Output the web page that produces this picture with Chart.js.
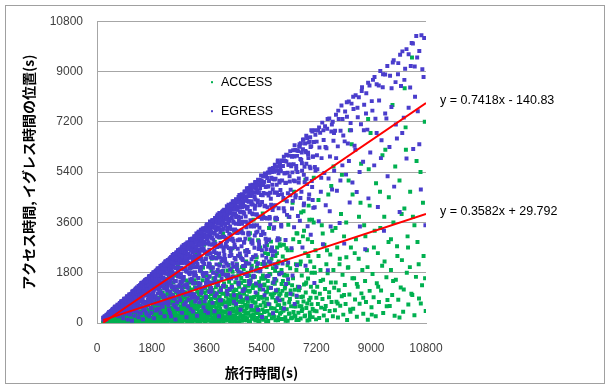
<!DOCTYPE html>
<html>
<head>
<meta charset="utf-8">
<script src="https://cdn.jsdelivr.net/npm/chart.js@4.4.1/dist/chart.umd.min.js"></script>
<style>
  html, body { margin: 0; padding: 0; background: #ffffff; }
  #wrap { width: 612px; height: 387px; }
</style>
</head>
<body>
<div id="wrap"><canvas id="chart" width="612" height="387"></canvas></div>
<script>
// Axis ticks (seconds)
const xTicks = [0, 1800, 3600, 5400, 7200, 9000, 10800];
const yTicks = [0, 1800, 3600, 5400, 7200, 9000, 10800];

const seriesNames = ['ACCESS', 'EGRESS'];
const seriesColors = ['#00B050', '#4A3DCC'];

// Linear trend lines: y = slope * x + intercept
const trendSlopes = [0.3582, 0.7418];
const trendIntercepts = [29.792, -140.83];
const trendLabels = ['y = 0.3582x + 29.792', 'y = 0.7418x - 140.83'];
const trendRange = [200, 10800];

// EGRESS: travel time (x), egress position (y), as x,y pairs
const egressXY = [
  // 0-600
  200,190, 210,120, 230,150, 240,220, 260,240, 270,180, 280,200, 300,120, 310,280, 320,300, 350,270, 370,330, 390,250, 410,390, 430,350, 450,420, 470,300, 490,460, 510,480, 530,400, 550,520, 560,450, 580,560, 590,330, 600,580,
  310,220, 329,290, 345,220, 368,340, 381,300, 402,390, 427,290, 441,370, 463,420, 479,280, 500,380, 523,500, 537,360, 560,490, 576,470, 599,580,
  // 600-1200
  610,580, 625,500, 640,575, 655,395, 670,650, 690,585, 705,530, 720,660, 735,370, 750,720, 765,630, 780,700, 800,560, 815,775, 830,730, 845,340, 860,800, 875,680, 890,865, 905,780, 920,600, 935,880, 950,760, 965,870, 980,540, 995,955, 1010,840, 1025,930, 1040,750, 1055,1020, 1070,930, 1085,330, 1100,1035, 1115,890, 1130,1015, 1145,780, 1160,1110, 1175,1000, 1185,1090, 1195,920, 1050,630, 940,420, 860,170, 1120,560, 700,245,
  618,380, 633,470, 657,590, 672,560, 694,500, 713,630, 729,470, 751,700, 768,610, 790,770, 806,560, 829,700, 847,770, 862,500, 886,670, 903,860, 921,620, 944,820, 958,780, 981,950, 997,620, 1019,750, 1034,930, 1057,880, 1073,770, 1095,960, 1112,710, 1131,1050, 1152,910, 1168,1140, 1189,820,
  // 1200-1800
  1205,1157, 1215,972, 1225,1100, 1235,865, 1245,1170, 1255,1067, 1265,760, 1275,1237, 1285,1130, 1295,970, 1305,1200, 1315,658, 1325,1260, 1335,1095, 1345,1210, 1355,895, 1365,1325, 1375,1183, 1385,555, 1395,1297, 1405,1096, 1415,1358, 1425,1268, 1435,1033, 1445,1373, 1455,1222, 1465,806, 1475,1445, 1485,1336, 1495,1136, 1505,1415, 1515,1303, 1525,458, 1535,1489, 1545,1236, 1555,1430, 1565,1064, 1575,1512, 1585,1379, 1595,1180, 1605,1493, 1615,1001, 1625,1576, 1635,1390, 1645,1480, 1655,745, 1665,1582, 1675,1323, 1685,1533, 1695,1186, 1705,1654, 1715,1509, 1725,1000, 1735,1631, 1745,1448, 1755,1685, 1765,1341, 1775,1598, 1785,357, 1795,1705,
  1204,1010, 1219,1110, 1231,710, 1246,950, 1258,1200, 1273,850, 1287,1120, 1298,1050, 1314,1270, 1327,820, 1339,990, 1354,1220, 1366,1130, 1381,990, 1393,1230, 1408,900, 1421,1320, 1433,1130, 1448,1420, 1460,1010, 1475,1240, 1487,1350, 1502,870, 1514,1150, 1529,1450, 1541,1030, 1556,1350, 1568,1270, 1583,1540, 1595,990, 1610,1190, 1622,1460, 1637,1360, 1649,1190, 1664,1460, 1676,1070, 1691,1570, 1703,1350, 1718,1680, 1730,1190, 1745,1470, 1757,1600, 1772,1030, 1784,1360, 1799,1710,
  1230,550, 1281,410, 1327,690, 1376,370, 1424,570, 1473,810, 1519,550, 1570,750, 1616,360, 1665,830, 1713,720, 1762,530,
  // 1800-2400
  1805,1751, 1812,1504, 1820,1674, 1827,1297, 1835,1743, 1842,1621, 1850,1073, 1857,1820, 1865,1679, 1872,1441, 1880,1767, 1887,906, 1895,1819, 1902,1617, 1910,1738, 1917,1246, 1925,1867, 1932,1681, 1940,698, 1947,1811, 1955,1564, 1962,1884, 1970,1753, 1977,1443, 1985,1886, 1992,1673, 2000,1060, 2007,1947, 2015,1814, 2022,1517, 2030,1888, 2037,1752, 2045,511, 2052,1970, 2060,1669, 2067,1902, 2075,1432, 2082,2040, 2090,1839, 2097,1300, 2105,2000, 2112,1668, 2120,1908, 2127,1446, 2135,2071, 2142,1842, 2150,946, 2157,2006, 2165,1797, 2172,2085, 2180,1613, 2187,1946, 2195,2129, 2202,1233, 2210,2033, 2217,1884, 2225,2114, 2232,1562, 2240,2195, 2247,1955, 2255,722, 2262,2126, 2270,1771, 2277,2072, 2285,1462, 2292,2200, 2300,1932, 2307,2076, 2315,1158, 2322,2252, 2330,2050, 2337,1776, 2345,2204, 2352,1929, 2360,1416, 2367,2272, 2375,2114, 2382,1715, 2390,2223, 2397,360, 2370,1896, 2250,900,
  1811,1210, 1826,1590, 1838,1490, 1853,1800, 1865,1160, 1880,1390, 1892,1700, 1907,1580, 1919,1380, 1934,1700, 1946,1250, 1961,1820, 1973,1560, 1988,1950, 2000,1380, 2015,1690, 2027,1840, 2042,1180, 2054,1560, 2069,1970, 2081,1390, 2096,1820, 2108,1710, 2123,2060, 2135,1320, 2150,1590, 2162,1950, 2177,1810, 2189,1580, 2204,1940, 2216,1420, 2231,2070, 2243,1770, 2258,2210, 2270,1570, 2285,1920, 2297,2090, 2312,1340, 2324,1770, 2339,2220, 2351,1580, 2366,2060, 2378,1930, 2393,2320,
  1808,960, 1859,710, 1905,900, 1954,490, 2002,880, 2051,700, 2097,1070, 2148,620, 2194,990, 2243,720, 2289,1190, 2340,630, 2386,950,
  // 2400-3000
  2404,2280, 2411,2070, 2418,2200, 2425,1600, 2432,2360, 2439,1950, 2446,2270, 2453,1280, 2460,2360, 2467,2170, 2474,1830, 2481,2430, 2488,2240, 2495,950, 2502,2350, 2509,2080, 2516,2420, 2523,1770, 2530,2330, 2537,2180, 2544,1480, 2551,2470, 2558,2280, 2565,1980, 2572,2440, 2579,1160, 2586,2350, 2593,2180, 2600,2520, 2607,1770, 2614,2430, 2621,2280, 2628,740, 2635,2530, 2642,2140, 2649,2380, 2656,1670, 2663,2610, 2670,2270, 2677,2520, 2684,1960, 2691,2580, 2698,2370, 2705,1350, 2712,2520, 2719,2150, 2726,2640, 2733,2460, 2740,1640, 2747,2610, 2754,2310, 2761,2540, 2768,1970, 2775,2690, 2782,2420, 2789,1170, 2796,2630, 2803,2300, 2810,2700, 2817,2140, 2824,2570, 2831,2430, 2838,1560, 2845,2790, 2852,2540, 2859,1920, 2866,2720, 2873,2300, 2880,2680, 2887,1010, 2894,2810, 2901,2470, 2908,2620, 2915,1870, 2922,2810, 2929,2580, 2936,2200, 2943,2770, 2950,2450, 2957,1390, 2964,2880, 2971,2670, 2978,2320, 2985,2840, 2992,600,
  2405,1490, 2418,1790, 2432,2190, 2444,2030, 2459,1770, 2471,2170, 2486,1590, 2498,2320, 2513,1990, 2525,2470, 2540,1750, 2552,2140, 2567,2340, 2579,1500, 2594,1970, 2606,2480, 2621,1760, 2633,2290, 2648,2140, 2660,2580, 2675,1660, 2687,1990, 2702,2430, 2714,2250, 2729,1960, 2741,2410, 2756,1760, 2768,2570, 2783,2200, 2795,2740, 2810,1940, 2822,2370, 2837,2580, 2849,1650, 2864,2180, 2876,2730, 2891,1940, 2903,2530, 2918,2360, 2930,2840, 2945,1830, 2957,2190, 2972,2670, 2984,2480,
  2435,1340, 2483,890, 2532,1220, 2578,570, 2629,1310, 2675,1120, 2724,820, 2770,1470, 2819,1070, 2865,1350, 2914,730, 2962,1300,
  // 3000-3600
  3004,2880, 3011,2470, 3018,2780, 3025,2090, 3032,2880, 3039,2640, 3046,1740, 3053,2990, 3060,2750, 3067,2330, 3074,2890, 3081,1510, 3088,2960, 3095,2600, 3102,2820, 3109,1990, 3116,3020, 3123,2690, 3130,1030, 3137,2920, 3144,2520, 3151,3020, 3158,2780, 3165,2280, 3172,3010, 3179,2640, 3186,1720, 3193,3100, 3200,2880, 3207,2410, 3214,2990, 3221,2740, 3228,770, 3235,3110, 3242,2630, 3249,2990, 3256,2180, 3263,3200, 3270,2880, 3277,2000, 3284,3120, 3291,2570, 3298,2970, 3305,2280, 3312,3210, 3319,2850, 3326,1430, 3333,3100, 3340,2770, 3347,3210, 3354,2450, 3361,2990, 3368,3270, 3375,1890, 3382,3110, 3389,2880, 3396,3230, 3403,2380, 3410,3340, 3417,2970, 3424,1060, 3431,3230, 3438,2680, 3445,3130, 3452,2210, 3459,3320, 3466,2910, 3473,3130, 3480,1740, 3487,3380, 3494,3070, 3501,2660, 3508,3300, 3515,2880, 3522,2110, 3529,3390, 3536,3150, 3543,2550, 3550,3300, 3557,430, 3564,2850, 3571,3390, 3578,1430, 3585,3120, 3592,3480,
  2999,2160, 3011,2650, 3026,1940, 3038,2830, 3053,2410, 3065,3000, 3080,2130, 3092,2600, 3107,2830, 3119,1810, 3134,2380, 3146,2990, 3161,2120, 3173,2760, 3188,2580, 3200,3100, 3215,1990, 3227,2390, 3242,2920, 3254,2700, 3269,2350, 3281,2890, 3296,2110, 3308,3080, 3323,2630, 3335,3270, 3350,2310, 3362,2820, 3377,3070, 3389,1970, 3404,2590, 3416,3250, 3431,2300, 3443,3000, 3458,2800, 3470,3370, 3485,2160, 3497,2590, 3512,3160, 3524,2920, 3539,2550, 3551,3120, 3566,2280, 3578,3330, 3593,2840,
  3011,1020, 3057,1560, 3108,900, 3154,1420, 3203,1020, 3249,1690, 3300,890, 3346,1340, 3395,1870, 3443,1240, 3492,1680, 3538,780, 3589,1790,
  // 3600-4200
  3604,3420, 3611,3000, 3619,3290, 3626,2470, 3634,3530, 3641,3130, 3649,2010, 3656,3400, 3664,2890, 3671,3520, 3679,3240, 3686,2620, 3694,3470, 3701,1670, 3709,3630, 3716,3120, 3724,3350, 3731,2350, 3739,3590, 3746,3260, 3754,1130, 3761,3460, 3769,3050, 3776,3590, 3784,2800, 3791,3680, 3799,3230, 3806,1980, 3814,3550, 3821,2980, 3829,3680, 3836,3410, 3844,2540, 3851,3620, 3859,3200, 3866,1470, 3874,3760, 3881,3420, 3889,2840, 3896,3700, 3904,3320, 3911,2310, 3919,3610, 3926,3140, 3934,3820, 3941,2720, 3949,3550, 3956,3760, 3964,1900, 3971,3420, 3979,3700, 3986,3070, 3994,3830, 4001,3360, 4009,2490, 4016,3940, 4024,3580, 4031,810, 4039,3800, 4046,3240, 4054,3690, 4061,2840, 4069,3910, 4076,3510, 4084,2210, 4091,3800, 4099,3360, 4106,3980, 4114,3090, 4121,3710, 4129,1730, 4136,3930, 4144,3610, 4151,2700, 4159,3910, 4166,3370, 4174,4050, 4181,2430, 4189,3730, 4196,3900,
  3606,3530, 3624,2500, 3641,3060, 3660,3330, 3676,2130, 3695,2810, 3713,3530, 3730,2500, 3749,3260, 3765,3050, 3784,3670, 3802,2360, 3819,2830, 3838,3450, 3854,3200, 3873,2790, 3891,3420, 3908,2500, 3927,3650, 3943,3110, 3962,3880, 3980,2750, 3997,3360, 4016,3650, 4032,2340, 4051,3080, 4069,3870, 4086,2740, 4105,3570, 4121,3340, 4140,4020, 4158,2580, 4175,3090, 4194,3770,
  3635,1530, 3684,1110, 3730,1980, 3779,1440, 3825,1800, 3874,970, 3922,1730, 3971,1350, 4017,2050, 4068,1180, 4114,1850, 4163,1330,
  // 4200-4800
  4204,4040, 4212,3540, 4220,3880, 4229,2830, 4237,4030, 4245,3690, 4254,2130, 4262,4180, 4270,3840, 4279,3290, 4287,4030, 4295,1630, 4304,4130, 4312,3580, 4320,3930, 4329,2680, 4337,4210, 4345,3740, 4354,1220, 4362,4060, 4370,3450, 4379,4160, 4387,3160, 4395,3910, 4404,4270, 4412,2430, 4420,4070, 4429,3760, 4437,4170, 4445,3020, 4454,4360, 4462,3930, 4470,2010, 4479,4170, 4487,3590, 4495,4320, 4504,3330, 4512,4060, 4520,4290, 4529,2720, 4537,3900, 4545,4230, 4554,3550, 4562,4430, 4570,3840, 4579,1600, 4587,4170, 4595,4410, 4604,3220, 4612,4060, 4620,4340, 4629,2410, 4637,3800, 4645,4510, 4654,4140, 4662,3540, 4670,4340, 4679,2990, 4687,4450, 4695,3990, 4704,4230, 4712,940, 4720,4530, 4729,3780, 4737,4360, 4745,3320, 4754,4610, 4762,4140, 4770,2290, 4779,4490, 4787,3970, 4795,4320,
  4210,3490, 4229,3040, 4247,3740, 4264,2730, 4283,3980, 4299,3400, 4318,4230, 4336,2990, 4353,3660, 4372,3980, 4388,2550, 4407,3350, 4425,4200, 4442,2980, 4461,3880, 4477,3630, 4496,4360, 4514,2800, 4531,3350, 4550,4100, 4566,3790, 4585,3300, 4603,4050, 4620,2960, 4639,4310, 4655,3680, 4674,4580, 4692,3240, 4709,3960, 4728,4300, 4744,2750, 4763,3620, 4781,4540, 4798,3210,
  4209,2190, 4260,1150, 4306,1720, 4355,2400, 4403,1590, 4452,2140, 4498,990, 4549,2270, 4595,1930, 4644,1390, 4690,2490, 4739,1800, 4785,2250,
  // 4800-5400
  4804,4560, 4814,3950, 4823,4390, 4833,2900, 4843,4700, 4852,4170, 4862,2040, 4872,4530, 4881,3810, 4891,4700, 4901,3430, 4910,4370, 4920,4820, 4930,2610, 4939,4540, 4949,4160, 4959,4710, 4968,3230, 4978,4830, 4988,4340, 4997,1500, 5007,4660, 5017,4010, 5026,4830, 5036,3680, 5046,4540, 5055,4800, 5065,2890, 5075,4360, 5084,4730, 5094,3920, 5104,4950, 5113,4240, 5123,2360, 5133,4670, 5142,4940, 5152,3500, 5162,4540, 5171,4860, 5181,4090, 5191,5040, 5200,4420, 5210,1880, 5220,4800, 5229,5020, 5239,3880, 5249,4670, 5258,4940, 5268,3270, 5278,4330, 5287,5130, 5297,4660, 5307,2650, 5316,4940, 5326,4210, 5336,5120, 5345,3790, 5355,4820, 5365,5100, 5374,1340, 5384,4580, 5394,4960,
  4817,4190, 4833,3910, 4852,4710, 4870,3020, 4887,3620, 4906,4420, 4922,4090, 4941,3560, 4959,4360, 4976,3180, 4995,4650, 5011,3960, 5030,4930, 5048,3480, 5065,4250, 5084,4630, 5100,2960, 5119,3890, 5137,4880, 5154,3450, 5173,4500, 5189,4200, 5208,5050, 5226,3240, 5243,3880, 5262,4740, 5278,4380, 5297,3810, 5315,4680, 5332,3410, 5351,4980, 5367,4240, 5386,5280,
  4834,1210, 4882,2150, 4931,1680, 4977,2540, 5028,1460, 5074,2280, 5123,1640, 5169,2690, 5220,1410, 5266,2110, 5315,2920, 5363,1930,
  // 5400-6000
  5406,5080, 5418,4330, 5430,4940, 5442,3270, 5454,5240, 5466,4650, 5478,2190, 5490,5050, 5502,4180, 5514,5350, 5526,3760, 5538,4870, 5550,5270, 5562,2890, 5574,4630, 5586,5190, 5598,4140, 5610,5390, 5622,4890, 5634,1690, 5646,5080, 5658,5380, 5670,3740, 5682,4660, 5694,5520, 5706,4450, 5718,5200, 5730,2580, 5742,5400, 5754,4950, 5766,4040, 5778,5550, 5790,5150, 5802,3370, 5814,5410, 5826,4660, 5838,5660, 5850,4210, 5862,5160, 5874,1170, 5886,5590, 5898,4950, 5910,3720, 5922,5450, 5934,5760, 5946,4580, 5958,5360, 5970,2990, 5982,5620, 5994,5090,
  5412,3730, 5441,4570, 5467,4970, 5496,3190, 5522,4200, 5551,5270, 5577,3740, 5606,4880, 5632,4560, 5661,5490, 5687,3530, 5716,4230, 5742,5170, 5771,4790, 5797,4170, 5826,5130, 5852,3750, 5881,5470, 5907,4670, 5936,5820, 5962,4110, 5991,5030,
  5412,2600, 5458,1200, 5509,2750, 5555,2330, 5604,1680, 5650,2990, 5699,2170, 5745,2700, 5794,1450, 5842,2570, 5891,2000, 5937,3030, 5988,1740,
  // 6000-6600
  6007,5710, 6021,4760, 6035,5430, 6049,3450, 6063,5820, 6077,5100, 6091,2130, 6105,5620, 6119,4470, 6133,5950, 6147,4000, 6161,5360, 6175,5800, 6189,2970, 6203,5020, 6217,5780, 6231,4360, 6245,6000, 6259,5380, 6273,1570, 6287,5660, 6301,5990, 6315,3790, 6329,5060, 6343,6150, 6357,4770, 6371,5670, 6385,2680, 6399,5950, 6413,5390, 6427,4370, 6441,6180, 6455,5680, 6469,3430, 6483,5960, 6497,5070, 6511,6190, 6525,4570, 6539,5620, 6553,980, 6567,6170, 6581,5400,
  6017,5480, 6046,3510, 6072,4610, 6101,5800, 6127,4110, 6156,5360, 6182,5010, 6211,6020, 6237,3870, 6266,4640, 6292,5660, 6321,5250, 6347,4570, 6376,5610, 6402,4100, 6431,5980, 6457,5100, 6486,6360, 6512,4490, 6541,5490, 6567,5980, 6596,3830,
  // 6600-7200
  6608,6150, 6625,5170, 6642,6310, 6659,3660, 6676,5870, 6693,6430, 6710,4700, 6727,5720, 6744,2700, 6761,6220, 6778,6570, 6795,4280, 6812,5590, 6829,6420, 6846,2050, 6863,6110, 6880,5160, 6897,6620, 6914,3460, 6931,6030, 6948,6460, 6965,4600, 6982,5590, 6999,6650, 7016,3160, 7033,6330, 7050,5080, 7067,6850, 7084,5950, 7101,4120, 7118,6480, 7135,1430, 7152,5580, 7169,6740,
  6650,6400, 6720,6100, 6790,5300, 6870,6700, 6940,5900, 7010,6300, 7080,4400, 7150,6900,
  6622,5030, 6651,6320, 6677,4470, 6706,5830, 6732,5450, 6761,6560, 6787,4210, 6816,5040, 6842,6160, 6871,5700, 6897,4970, 6926,6090, 6952,4450, 6981,6490, 7007,5540, 7036,6900, 7062,4870, 7091,5960, 7117,6480, 7146,4140, 7172,5450,
  // 7200-7800
  7210,6490, 7233,5500, 7256,6890, 7279,3640, 7302,6280, 7325,6810, 7348,4700, 7371,5900, 7394,7170, 7417,2820, 7440,6550, 7463,5370, 7486,7040, 7509,4210, 7532,6250, 7555,6950, 7578,1890, 7601,5170, 7624,7320, 7647,5960, 7670,3450, 7693,6850, 7716,4780, 7739,7200, 7762,6520, 7785,5450,
  7220,6000, 7290,7000, 7360,5200, 7430,6900, 7500,6300, 7570,7300, 7640,4000, 7710,7100, 7780,6800,
  // 7800-8400
  7815,6880, 7845,7450, 7875,4730, 7905,6320, 7935,7300, 7965,3580, 7995,6880, 8025,7780, 8055,5640, 8085,6710, 8115,2840, 8145,7570, 8175,5310, 8205,7380, 8235,6420, 8265,7930, 8295,4310, 8325,7160, 8355,7850, 8385,5030,
  7850,5900, 7920,7600, 7990,5100, 8060,7300, 8130,6500, 8200,7900, 8270,5800, 8340,6900,
  // 8400-9000
  8420,7660, 8455,6340, 8490,8150, 8525,4690, 8560,7360, 8595,8080, 8630,3450, 8665,7110, 8700,8440, 8735,5770, 8770,7810, 8805,2640, 8840,8220, 8875,6920, 8910,4460, 8945,8500,
  8410,8100, 8480,6200, 8550,7700, 8620,5400, 8690,8300, 8760,6900, 8830,7500, 8900,8600, 8970,6100,
  // 9000-9600
  9020,7940, 9060,8700, 9100,5640, 9140,7310, 9180,8540, 9220,4150, 9260,7960, 9300,9020, 9340,6540, 9380,8440, 9420,3300, 9460,8890, 9500,7320, 9540,5250,
  9040,7600, 9110,8800, 9180,6800, 9250,8500, 9320,5900, 9390,8900, 9460,7500, 9530,9200,
  // 9600-10200
  9620,8850, 9665,7730, 9710,9320, 9755,4880, 9800,8620, 9845,6600, 9890,9300, 9935,3970, 9980,8480, 10025,9720, 10070,7350, 10115,9100, 10160,5890,
  9600,6300, 9670,8400, 9740,9400, 9810,7100, 9880,8900, 9950,9600, 10020,6800, 10090,8700, 10160,9800,
  // 10200-10800
  10230,9620, 10280,8430, 10330,10020, 10380,6230, 10430,9180, 10480,10270, 10530,7580, 10580,9730, 10630,4780, 10680,9080, 10740,10200,
  10230,7700, 10300,9200, 10370,10000, 10440,8100, 10510,9500, 10580,6400, 10650,10300, 10720,8800, 10780,3500,
  // middle of the triangle, 700-5900
  700,364, 731,278, 775,512, 802,361, 841,597, 876,359, 905,525, 947,331, 980,617, 1011,495, 1055,728, 1082,465, 1121,617, 1156,428, 1185,723, 1227,577, 1260,907, 1291,516, 1335,761, 1362,681,
  1401,771, 1436,589, 1465,1011, 1507,723, 1540,1140, 1571,691, 1615,985, 1642,624, 1681,1109, 1716,892, 1745,1256, 1787,822, 1820,1056, 1851,740, 1895,1213, 1922,961, 1961,1471, 1996,858, 2025,1215, 2067,1096,
  2100,1029, 2131,746, 2175,1370, 2202,925, 2241,1524, 2276,865, 2305,1268, 2347,751, 2380,1428, 2411,1109, 2455,1620, 2482,993, 2521,1311, 2556,869, 2585,1499, 2627,1156, 2660,1835, 2691,996, 2735,1477, 2762,1298,
  2801,1499, 2836,1120, 2865,1934, 2907,1352, 2940,2132, 2971,1263, 3015,1794, 3042,1110, 3081,1987, 3116,1574, 3145,2217, 3187,1418, 3220,1819, 3251,1252, 3295,2059, 3322,1611, 3361,2470, 3396,1409, 3425,2004, 3467,1786,
  3500,1768, 3531,1289, 3575,2306, 3602,1567, 3641,2530, 3676,1452, 3705,2093, 3747,1255, 3780,2325, 3811,1810, 3855,2602, 3882,1611, 3921,2098, 3956,1404, 3985,2371, 4027,1832, 4060,2862, 4091,1575, 4135,2295, 4162,2019,
  4201,2290, 4236,1716, 4265,2922, 4307,2046, 4340,3190, 4371,1901, 4415,2671, 4442,1666, 4481,2935, 4516,2326, 4545,3250, 4587,2087, 4620,2657, 4651,1837, 4695,2981, 4722,2337, 4761,3547, 4796,2038, 4825,2871, 4867,2555,
  4900,2426, 4931,1751, 4975,3159, 5002,2126, 5041,3453, 5076,1954, 5105,2833, 5147,1673, 5180,3134, 5211,2423, 5255,3495, 5282,2139, 5321,2794, 5356,1848, 5385,3150, 5427,2415, 5460,3795, 5491,2059, 5535,3017, 5562,2642,
  5601,2969, 5636,2198, 5665,3796, 5707,2625, 5740,4133, 5771,2424, 5815,3431, 5842,2103, 5881,3764, 5916,2958,
  // lower part of the triangle, 1000-6700
  1010,121, 1083,303, 1149,80, 1226,257, 1297,428, 1362,204, 1441,360, 1508,136, 1577,473, 1655,298,
  1722,241, 1790,537, 1869,168, 1935,445, 2004,701, 2083,354, 2149,580, 2218,244, 2296,735, 2363,473,
  2431,243, 2510,653, 2576,129, 2645,503, 2723,844, 2790,363, 2858,657, 2937,206, 3003,841, 3072,492,
  3150,410, 3217,933, 3285,263, 3364,740, 3430,1166, 3499,560, 3577,930, 3644,364, 3712,1151, 3791,720,
  3857,424, 3926,1060, 4004,240, 4071,814, 4139,1324, 4218,591, 4284,1028, 4353,348, 4431,1285, 4498,765,
  4566,685, 4645,1440, 4711,471, 4780,1147, 4858,1749, 4925,887, 4993,1398, 5072,609, 5138,1696, 5207,1093,
  5285,476, 5352,1338, 5420,217, 5499,990, 5565,1670, 5634,676, 5712,1257, 5779,347, 5847,1579, 5926,889,
  5992,809, 6061,1788, 6139,522, 6206,1396, 6274,2165, 6353,1048, 6419,1701, 6488,681, 6566,2068, 6633,1293
];

// ACCESS: travel time (x), access position (y), as x,y pairs
const accessXY = [
  // 0-600
  200,20, 215,40, 230,10, 245,60, 260,30, 275,80, 290,20, 300,100, 330,50, 360,150, 380,30, 400,90, 430,200, 460,60, 480,120, 510,30, 540,250, 560,80, 580,160, 600,40,
  // 600-1200
  610,60, 630,150, 650,20, 670,230, 690,90, 710,40, 730,180, 750,300, 770,70, 790,130, 810,20, 830,250, 850,110, 870,400, 890,50, 910,170, 930,80, 950,320, 970,30, 990,210, 1010,100, 1030,500, 1050,60, 1070,280, 1090,150, 1110,20, 1130,350, 1150,90, 1170,200, 1190,40, 660,330, 780,10, 880,280, 1000,600, 1080,30, 1160,450, 720,100, 940,220, 1120,130, 1060,700,
  1003,60, 1024,210, 1041,130, 1063,350, 1082,20, 1101,270, 1122,160, 1140,440, 1161,90, 1179,310, 1200,40,
  // 1200-1800
  1210,40, 1220,250, 1230,120, 1240,380, 1250,60, 1260,190, 1270,20, 1280,300, 1290,150, 1300,90, 1310,450, 1320,30, 1330,210, 1340,110, 1350,560, 1360,70, 1370,260, 1380,140, 1390,20, 1400,340, 1410,180, 1420,80, 1430,620, 1440,40, 1450,230, 1460,130, 1470,400, 1480,60, 1490,290, 1500,10, 1510,170, 1520,480, 1530,90, 1540,320, 1550,40, 1560,200, 1570,750, 1580,120, 1590,30, 1600,270, 1610,160, 1620,520, 1630,70, 1640,350, 1650,20, 1660,210, 1670,110, 1680,420, 1690,50, 1700,900, 1720,240, 1740,130, 1760,30, 1780,360, 1795,180,
  1221,520, 1239,190, 1260,110, 1278,400, 1299,250, 1320,70, 1338,600, 1359,150, 1377,340, 1398,240, 1419,90, 1437,420, 1458,30, 1476,180, 1497,560, 1518,120, 1536,300, 1557,70, 1575,480, 1596,200, 1617,10, 1635,360, 1656,140, 1674,650, 1695,260, 1716,50, 1734,390, 1755,170, 1773,520,
  // 1800-2400
  1808,90, 1817,363, 1826,183, 1835,642, 1845,37, 1854,278, 1863,522, 1872,150, 1882,941, 1891,227, 1900,418, 1909,76, 1918,767, 1928,347, 1937,174, 1946,584, 1955,20, 1965,491, 1974,1283, 1983,258, 1992,120, 2002,661, 2011,402, 2020,222, 2029,913, 2039,61, 2048,348, 2057,555, 2066,145, 2076,1661, 2085,104, 2094,419, 2103,210, 2113,740, 2122,42, 2131,320, 2140,599, 2150,172, 2159,1080, 2168,260, 2177,479, 2187,87, 2196,878, 2205,397, 2214,199, 2224,667, 2233,22, 2242,561, 2251,1351, 2261,294, 2270,136, 2279,752, 2288,458, 2298,253, 2307,1038, 2316,69, 2325,395, 2335,630, 2344,164, 2353,1647, 2362,330, 2372,546, 2381,119, 2390,908, 2399,240,
  1794,110, 1815,380, 1833,60, 1854,700, 1872,230, 1893,20, 1914,460, 1932,150, 1953,810, 1971,290, 1992,90, 2013,540, 2031,180, 2052,30, 2070,620, 2091,340, 2112,120, 2130,900, 2151,250, 2169,430, 2190,70, 2211,520, 2229,200, 2250,980, 2268,310, 2289,40, 2310,690, 2328,160, 2349,420, 2367,120, 2388,260,
  // 2400-3000
  2405,120, 2414,480, 2422,250, 2431,850, 2440,60, 2448,370, 2457,690, 2466,190, 2474,1230, 2483,300, 2492,540, 2500,90, 2509,1000, 2518,440, 2526,220, 2535,760, 2544,30, 2552,640, 2561,1700, 2570,340, 2578,150, 2587,860, 2596,520, 2604,280, 2613,1180, 2622,80, 2630,450, 2639,710, 2648,180, 2656,2100, 2665,130, 2674,530, 2682,270, 2691,940, 2700,50, 2708,410, 2717,760, 2726,220, 2734,1360, 2743,330, 2752,600, 2760,110, 2769,1100, 2778,500, 2786,250, 2795,840, 2804,20, 2812,700, 2821,1600, 2830,370, 2838,170, 2847,930, 2856,570, 2864,310, 2873,1290, 2882,90, 2890,490, 2899,780, 2908,200, 2916,2300, 2925,140, 2934,590, 2942,290, 2951,1050, 2960,60, 2968,430, 2977,820, 2986,240, 2994,1450, 2999,380,
  2410,90, 2436,480, 2459,230, 2485,820, 2510,30, 2533,610, 2559,340, 2584,1100, 2607,160, 2633,720, 2658,60, 2681,1300, 2707,410, 2732,190, 2755,950, 2781,550, 2806,120, 2829,1600, 2855,290, 2880,760, 2903,370, 2929,140, 2954,890, 2977,50,
  // 3000-3600
  3004,150, 3013,560, 3021,290, 3030,1020, 3039,70, 3047,430, 3056,820, 3065,230, 3073,1450, 3082,360, 3091,650, 3099,110, 3108,1200, 3117,520, 3125,260, 3134,900, 3143,30, 3151,760, 3160,2000, 3169,400, 3177,180, 3186,1030, 3195,620, 3203,330, 3212,1400, 3221,100, 3229,540, 3238,840, 3247,210, 3255,2500, 3264,150, 3273,630, 3281,320, 3290,1120, 3299,60, 3307,490, 3316,900, 3325,260, 3333,1600, 3342,390, 3351,710, 3359,130, 3368,1300, 3377,590, 3385,300, 3394,990, 3403,20, 3411,820, 3420,1850, 3429,440, 3437,200, 3446,1100, 3455,680, 3463,370, 3472,1530, 3481,110, 3489,580, 3498,920, 3507,240, 3515,2800, 3524,170, 3533,700, 3541,350, 3550,1240, 3559,80, 3567,510, 3576,970, 3585,290, 3593,1700, 3599,450,
  3003,520, 3028,1200, 3051,260, 3077,680, 3102,20, 3125,1000, 3151,450, 3176,180, 3199,760, 3225,310, 3250,1450, 3273,80, 3299,590, 3324,230, 3347,1050, 3373,400, 3398,210, 3421,1150, 3447,100, 3472,640, 3495,330, 3521,1700, 3546,40, 3569,880, 3595,470,
  // 3600-4200
  3605,180, 3614,640, 3623,330, 3632,1150, 3641,80, 3650,500, 3659,930, 3668,260, 3677,1650, 3686,410, 3695,740, 3704,120, 3713,1380, 3722,590, 3731,290, 3740,1030, 3749,40, 3758,860, 3767,2300, 3776,450, 3785,200, 3794,1180, 3803,700, 3812,370, 3821,1600, 3830,110, 3839,610, 3848,960, 3857,230, 3866,2900, 3875,160, 3884,720, 3893,360, 3902,1280, 3911,70, 3920,560, 3929,1030, 3938,300, 3947,1830, 3956,440, 3965,810, 3974,140, 3983,1490, 3992,670, 4001,340, 4010,1130, 4019,30, 4028,930, 4037,2100, 4046,500, 4055,230, 4064,1260, 4073,770, 4082,420, 4091,1750, 4100,120, 4109,660, 4118,1050, 4127,280, 4136,3200, 4145,190, 4154,790, 4163,400, 4172,1410, 4190,90,
  3620,170, 3643,1350, 3669,280, 3694,730, 3717,130, 3743,560, 3768,2000, 3791,360, 3817,70, 3842,920, 3865,250, 3891,90, 3916,480, 3939,230, 3965,820, 3990,30, 4013,610, 4039,340, 4064,1100, 4087,160, 4113,720, 4138,60, 4161,1300, 4187,410,
  // 4200-4800
  4205,210, 4215,730, 4225,380, 4235,1300, 4245,90, 4256,570, 4266,1060, 4276,300, 4286,1880, 4297,470, 4307,850, 4317,140, 4327,1580, 4338,680, 4348,330, 4358,1180, 4368,50, 4379,990, 4389,2600, 4399,510, 4410,230, 4420,1350, 4430,800, 4440,420, 4451,1830, 4461,130, 4471,700, 4481,1100, 4492,270, 4502,3300, 4512,180, 4522,820, 4533,410, 4543,1460, 4553,80, 4563,640, 4574,1180, 4584,340, 4594,2100, 4604,500, 4615,930, 4625,160, 4635,1700, 4645,760, 4656,390, 4666,1300, 4676,40, 4686,1060, 4697,2400, 4707,570, 4717,260, 4727,1440, 4738,880, 4748,480, 4758,2000, 4768,140, 4779,750, 4790,1200,
  4212,190, 4235,950, 4261,550, 4286,120, 4309,1600, 4335,290, 4360,760, 4383,370, 4409,140, 4434,890, 4457,50, 4483,520, 4508,1200, 4531,260, 4557,680, 4582,20, 4605,1000, 4631,450, 4656,180, 4679,760, 4705,310, 4730,1450, 4753,80, 4779,590,
  // 4800-5400
  4805,250, 4816,820, 4828,430, 4839,1500, 4851,100, 4862,650, 4874,1200, 4885,340, 4897,2200, 4908,540, 4920,960, 4931,170, 4943,1800, 4954,770, 4966,380, 4977,1330, 4989,60, 5000,1120, 5012,3000, 5023,580, 5035,260, 5046,1530, 5058,910, 5069,470, 5081,2050, 5092,150, 5104,800, 5115,1250, 5127,310, 5138,3700, 5150,200, 5161,930, 5173,460, 5184,1650, 5196,90, 5207,720, 5219,1340, 5230,380, 5242,2350, 5253,560, 5265,1050, 5276,180, 5288,1920, 5299,860, 5311,440, 5322,1470, 5334,50, 5345,1200, 5357,2700, 5368,640, 5380,290, 5392,1600,
  4804,230, 4827,1050, 4853,400, 4878,210, 4901,1150, 4927,100, 4952,640, 4975,330, 5001,1700, 5026,40, 5049,880, 5075,470, 5100,170, 5123,1350, 5149,280, 5174,730, 5197,130, 5223,560, 5248,2000, 5271,360, 5297,70, 5322,920, 5345,250,
  // 5400-6000
  5407,290, 5420,930, 5433,480, 5447,1700, 5460,120, 5473,740, 5487,1350, 5500,390, 5513,2500, 5527,610, 5540,1090, 5553,190, 5567,2000, 5580,870, 5593,430, 5607,1500, 5620,70, 5633,1270, 5647,3400, 5660,660, 5673,300, 5687,1740, 5700,1030, 5713,530, 5727,2300, 5740,170, 5753,910, 5767,1420, 5780,350, 5793,4200, 5807,230, 5820,1060, 5833,520, 5847,1870, 5860,100, 5873,820, 5887,1520, 5900,430, 5913,2700, 5927,640, 5940,1190, 5953,210, 5967,2200, 5980,980, 5993,3000,
  5410,150, 5447,900, 5481,420, 5518,1600, 5552,60, 5589,700, 5623,1250, 5660,300, 5694,2100, 5731,530, 5765,1000, 5802,220, 5836,1400, 5873,780, 5907,2500, 5944,100, 5978,640,
  // 6000-6600
  6008,330, 6024,1050, 6040,540, 6056,1900, 6072,140, 6087,830, 6103,1500, 6119,440, 6135,2800, 6151,690, 6166,1230, 6182,210, 6198,2250, 6214,980, 6230,490, 6245,1700, 6261,80, 6277,1420, 6293,3800, 6309,740, 6324,340, 6340,1960, 6356,1160, 6372,600, 6388,2600, 6403,190, 6419,1020, 6435,1600, 6451,390, 6467,4700, 6482,260, 6498,1190, 6514,590, 6530,2100, 6546,110, 6561,930, 6577,3200, 6593,1300,
  6015,1800, 6049,380, 6086,1150, 6120,480, 6157,1700, 6191,80, 6228,1050, 6262,2600, 6299,330, 6333,860, 6370,170, 6404,1350, 6441,3000, 6475,600, 6512,240, 6546,1900, 6583,740,
  // 6600-7200
  6610,370, 6628,1170, 6647,600, 6666,2100, 6685,160, 6703,930, 6722,1700, 6741,490, 6760,3100, 6778,770, 6797,1380, 6816,240, 6835,2500, 6853,1090, 6872,540, 6891,1900, 6910,90, 6928,1590, 6947,4200, 6966,820, 6985,380, 7003,2200, 7022,1300, 7041,670, 7060,2900, 7078,210, 7097,1130, 7116,5200, 7135,440, 7153,1800, 7172,2600, 7190,130,
  6640,2900, 6710,600, 6780,4000, 6850,1400, 6920,3000, 6990,250, 7060,3700, 7130,2000,
  6617,110, 6654,1250, 6688,2200, 6725,430, 6759,950, 6796,3300, 6830,270, 6867,1450, 6901,700, 6938,2400, 6972,120, 7009,900, 7043,1800, 7080,500, 7114,3600, 7151,1100,
  // 7200-7800
  7208,420, 7229,1300, 7251,680, 7272,2400, 7294,180, 7315,1050, 7336,1900, 7358,550, 7379,3500, 7401,860, 7422,1550, 7444,270, 7465,2800, 7486,1220, 7508,610, 7529,2100, 7551,100, 7572,1780, 7593,4600, 7615,920, 7636,430, 7658,2450, 7679,1450, 7700,750, 7722,3300, 7743,240, 7765,5600, 7786,1260,
  7200,900, 7270,4400, 7340,1500, 7410,3200, 7480,500, 7550,2600, 7620,1100, 7690,4900, 7760,1900,
  // 7800-8400
  7810,460, 7835,1450, 7860,760, 7885,2700, 7910,200, 7935,1170, 7960,2100, 7985,620, 8010,3900, 8035,960, 8060,1730, 8085,300, 8110,3100, 8135,1360, 8160,680, 8185,2350, 8210,110, 8235,1980, 8260,5100, 8285,1020, 8310,480, 8335,2700, 8360,6400, 8385,1600,
  7830,3400, 7900,700, 7970,2300, 8040,5300, 8110,1000, 8180,3600, 8250,2000, 8320,400, 8390,4600, 8300,6900,
  // 8400-9000
  8410,510, 8440,1600, 8470,840, 8500,3000, 8530,220, 8560,1300, 8590,2300, 8620,690, 8650,4300, 8680,1060, 8710,1900, 8740,330, 8770,3500, 8800,1500, 8830,750, 8860,2600, 8890,120, 8920,5500, 8950,1150, 8980,6800,
  8460,2500, 8530,1400, 8600,3800, 8670,5700, 8740,900, 8810,3100, 8880,2000, 8950,4200, 8900,7300,
  // 9000-9600
  9010,560, 9045,1750, 9080,920, 9115,3300, 9150,240, 9185,1420, 9220,2500, 9255,750, 9290,4700, 9325,1160, 9360,2050, 9395,360, 9430,3800, 9465,6200, 9500,1640, 9535,820, 9570,2900,
  9020,300, 9090,2700, 9160,5000, 9230,1300, 9300,3400, 9370,6000, 9440,2200, 9510,600, 9580,4500,
  // 9600-10200
  9610,610, 9650,1900, 9690,1000, 9730,3600, 9770,260, 9810,1550, 9850,2750, 9890,830, 9930,5100, 9970,1270, 10010,2250, 10050,400, 10090,4100, 10130,7000, 10170,1800, 10195,3100,
  9650,3000, 9720,1500, 9790,5600, 9860,2400, 9930,200, 10000,3900, 10070,1200, 10140,6200, 9700,7800, 10100,8400,
  // 10200-10800
  10220,660, 10270,2000, 10320,1050, 10370,3800, 10420,280, 10470,1650, 10520,2900, 10570,880, 10620,5400, 10670,1350, 10720,2400, 10760,7200, 10790,430,
  10210,2700, 10280,4700, 10350,1000, 10420,3500, 10490,5800, 10560,2100, 10630,700, 10700,4300, 10770,1600, 10340,9500,
  // middle band, 1500-6300
  1500,330, 1537,538, 1583,269, 1616,663, 1657,464, 1696,322, 1740,766, 1777,551, 1823,438, 1856,705, 1897,304, 1936,639, 1980,535, 2017,867, 2063,413, 2096,755, 2137,534, 2176,392, 2220,888, 2257,677,
  2303,553, 2336,864, 2377,452, 2416,1039, 2460,738, 2497,524, 2543,1170, 2576,850, 2617,680, 2656,1062, 2700,486, 2737,958, 2783,807, 2816,1267, 2857,629, 2896,1100, 2940,794, 2977,595, 3023,1270, 3056,978,
  3097,619, 3136,1035, 3180,477, 3217,1255, 3263,848, 3296,560, 3337,1402, 3376,979, 3420,752, 3457,1245, 3503,490, 3536,1096, 3577,894, 3616,1483, 3660,659, 3697,1257, 3743,861, 3776,604, 3817,1450, 3856,1080,
  3900,897, 3937,1417, 3983,717, 4016,1687, 4057,1177, 4096,819, 4140,1863, 4177,1337, 4223,1056, 4256,1660, 4297,730, 4336,1474, 4380,1226, 4417,1943, 4463,937, 4496,1664, 4537,1180, 4576,869, 4620,1894, 4657,1444,
  4703,988, 4736,1610, 4777,764, 4816,1926, 4860,1312, 4897,881, 4943,2125, 4976,1493, 5017,1154, 5056,1871, 5100,765, 5137,1644, 5183,1348, 5216,2191, 5257,999, 5296,1854, 5340,1282, 5377,914, 5423,2115, 5456,1582,
  5497,1374, 5536,2104, 5580,1116, 5617,2471, 5663,1756, 5696,1253, 5737,2696, 5776,1964, 5820,1571, 5857,2401, 5903,1122, 5936,2137, 5977,1793, 6016,2767, 6060,1394, 6097,2378, 6143,1720, 6176,1297, 6217,2673, 6256,2064,
  // upper band, 1500-7000
  1520,760, 1660,1029, 1795,826, 1930,1370, 2080,1144, 2215,1462, 2350,1128, 2500,1450, 2640,1954, 2770,1440,
  2920,1518, 3060,1958, 3190,1531, 3340,2438, 3480,1984, 3610,2455, 3760,1880, 3900,2340, 4030,3063, 4180,2257,
  4320,2074, 4450,2670, 4600,2024, 4740,3271, 4870,2581, 5020,3213, 5160,2374, 5290,2962, 5440,3917, 5580,2790,
  5710,2912, 5860,3692, 6000,2820, 6130,4414, 6280,3517, 6420,4301, 6550,3210, 6700,3953, 6840,5130, 6970,3694
];

function pairsToPoints(flat) {
  const pts = [];
  for (let i = 0; i < flat.length; i += 2) pts.push({ x: flat[i], y: flat[i + 1] });
  return pts;
}

function trendPoints(k) {
  return trendRange.map(x => ({ x: x, y: trendSlopes[k] * x + trendIntercepts[k] }));
}

const LABEL_FONT = '12.5px "Liberation Sans", Arial, sans-serif';
const GRID = '#a6a6a6';

// Background, outer frame, in-plot legend and trend equations
const decorations = {
  id: 'decorations',
  beforeDraw(chart) {
    const ctx = chart.ctx;
    ctx.save();
    ctx.fillStyle = '#ffffff';
    ctx.fillRect(0, 0, chart.width, chart.height);
    ctx.restore();
  },
  afterDraw(chart) {
    const { ctx, chartArea, scales } = chart;
    ctx.save();
    ctx.strokeStyle = '#a0a0a0';
    ctx.lineWidth = 1;
    ctx.strokeRect(5.5, 5.5, 599, 378);

    ctx.font = LABEL_FONT;
    ctx.textBaseline = 'middle';
    ctx.textAlign = 'left';
    seriesNames.forEach((name, i) => {
      const y = chartArea.top + 61 + i * 29;
      const x = chartArea.left + 114;
      ctx.fillStyle = seriesColors[i];
      ctx.fillRect(x, y - 1, 2, 2);
      ctx.fillStyle = '#000000';
      ctx.fillText(name, x + 10, y);
    });

    trendLabels.forEach((label, k) => {
      const endY = trendSlopes[k] * trendRange[1] + trendIntercepts[k];
      const py = scales.y.getPixelForValue(endY) - 3;
      ctx.fillStyle = '#000000';
      ctx.fillText(label, chartArea.right + 14, py);
    });
    ctx.restore();
  }
};

const tickFont = { family: '"Liberation Sans", Arial, sans-serif', size: 12 };
const titleFont = { family: '"Noto Sans CJK JP", sans-serif', size: 14, weight: 'bold' };
const plainNumber = v => String(v);

new Chart(document.getElementById('chart'), {
  type: 'scatter',
  data: {
    datasets: [
      {
        label: 'EGRESS trend', type: 'line', data: trendPoints(1),
        borderColor: '#FF0000', borderWidth: 2, pointRadius: 0, fill: false, showLine: true
      },
      {
        label: 'ACCESS trend', type: 'line', data: trendPoints(0),
        borderColor: '#FF0000', borderWidth: 2, pointRadius: 0, fill: false, showLine: true
      },
      {
        label: seriesNames[1], data: pairsToPoints(egressXY),
        pointStyle: 'rect', pointRadius: 2.8, borderWidth: 0,
        backgroundColor: seriesColors[1], borderColor: seriesColors[1]
      },
      {
        label: seriesNames[0], data: pairsToPoints(accessXY),
        pointStyle: 'rect', pointRadius: 2.8, borderWidth: 0,
        backgroundColor: seriesColors[0], borderColor: seriesColors[0]
      }
    ]
  },
  options: {
    responsive: false,
    animation: false,
    events: [],
    layout: { padding: { top: 17, right: 186, left: 0, bottom: 0 } },
    plugins: { legend: { display: false }, tooltip: { enabled: false } },
    scales: {
      x: {
        type: 'linear', min: 0, max: 10800,
        afterBuildTicks: s => { s.ticks = xTicks.map(v => ({ value: v })); },
        afterFit: s => { s.height = 64; },
        grid: { display: false, drawTicks: false },
        border: { display: true, color: GRID, width: 1 },
        ticks: { font: tickFont, color: '#404040', padding: 18, maxRotation: 0, autoSkip: false, callback: plainNumber },
        title: { display: true, text: '旅行時間(s)', font: titleFont, color: '#000000', padding: { top: 0, bottom: 6 } }
      },
      y: {
        type: 'linear', min: 0, max: 10800,
        afterBuildTicks: s => { s.ticks = yTicks.map(v => ({ value: v })); },
        afterFit: s => { s.width = 97; },
        grid: { color: GRID, drawTicks: false },
        border: { display: true, color: GRID, width: 1 },
        ticks: { font: tickFont, color: '#404040', padding: 14, autoSkip: false, callback: plainNumber },
        title: { display: true, text: 'アクセス時間, イグレス時間の位置(s)', font: titleFont, color: '#000000', padding: { top: 20, bottom: 0 } }
      }
    }
  },
  plugins: [decorations]
});
</script>
</body>
</html>
